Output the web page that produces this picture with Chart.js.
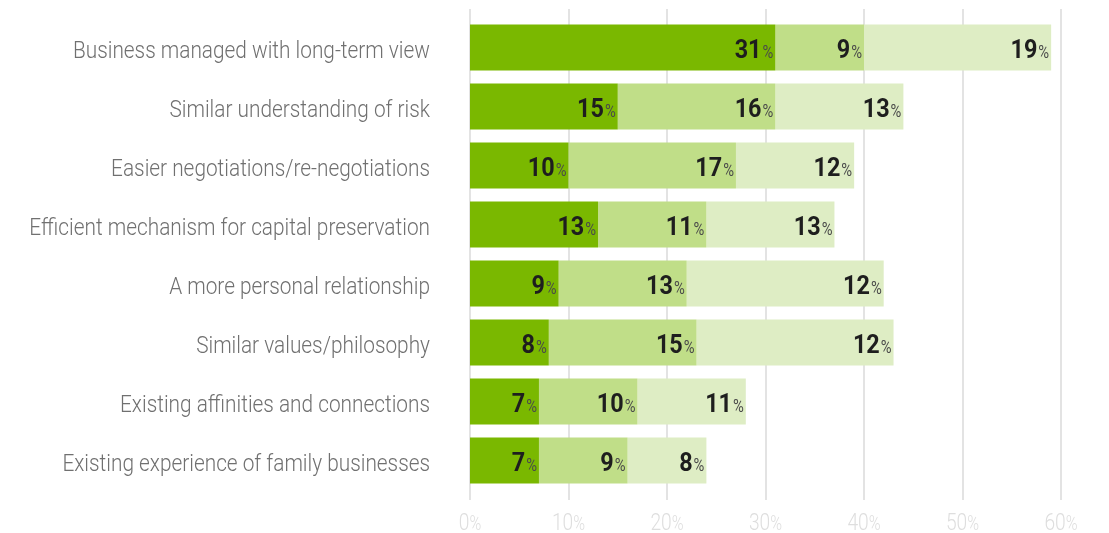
<!DOCTYPE html>
<html>
<head>
<meta charset="utf-8">
<script src="https://cdn.jsdelivr.net/npm/chart.js@4"></script>
<style>
  html, body { margin: 0; padding: 0; background: #fff; }
  #wrap { width: 1109px; height: 533px; }
</style>
</head>
<body>
<div id="wrap"><canvas id="myChart" width="1109" height="533"></canvas></div>
<script>
const categories = [
  "Business managed with long-term view",
  "Similar understanding of risk",
  "Easier negotiations/re-negotiations",
  "Efficient mechanism for capital preservation",
  "A more personal relationship",
  "Similar values/philosophy",
  "Existing affinities and connections",
  "Existing experience of family businesses"
];
// bar lengths as drawn
const darkValues = [31, 15, 10, 13, 9, 8, 7, 7];
const midValues = [9, 16, 17, 11, 13, 15, 10, 9];
const lightValues = [19, 13, 12, 13, 20, 20, 11, 8];
// numbers printed on the bars
const darkLabels = [31, 15, 10, 13, 9, 8, 7, 7];
const midLabels = [9, 16, 17, 11, 13, 15, 10, 9];
const lightLabels = [19, 13, 12, 13, 12, 12, 11, 8];
const xTicks = [0, 10, 20, 30, 40, 50, 60];

const fam = "Roboto, 'DejaVu Sans', sans-serif";

// draw text squeezed horizontally (condensed look), returns drawn width
function squeezed(ctx, text, x, y, align, sx) {
  const w = ctx.measureText(text).width * sx;
  let left = x;
  if (align === 'right') left = x - w;
  if (align === 'center') left = x - w / 2;
  ctx.save();
  ctx.translate(left, y);
  ctx.scale(sx, 1);
  ctx.textAlign = 'left';
  ctx.fillText(text, 0, 0);
  ctx.restore();
  return w;
}

const decor = {
  id: 'decor',
  beforeDatasetsDraw(chart) {
    const ctx = chart.ctx;
    const x = chart.scales.x;
    const area = chart.chartArea;
    ctx.save();
    ctx.strokeStyle = '#e3e3e3';
    ctx.lineWidth = 2;
    xTicks.forEach(v => {
      const px = Math.round(x.getPixelForValue(v));
      ctx.beginPath();
      ctx.moveTo(px, area.top - 9);
      ctx.lineTo(px, area.bottom + 10);
      ctx.stroke();
    });
    ctx.restore();
  },
  afterDatasetsDraw(chart) {
    const ctx = chart.ctx;
    const x = chart.scales.x;
    const y = chart.scales.y;
    const area = chart.chartArea;
    ctx.save();
    ctx.textBaseline = 'alphabetic';

    // category labels
    ctx.fillStyle = '#707070';
    ctx.font = '300 23px ' + fam;
    chart.data.labels.forEach((lab, i) => {
      squeezed(ctx, lab, area.left - 40, y.getPixelForValue(i) + 10, 'right', 0.905);
    });

    // x tick labels
    ctx.fillStyle = '#dedede';
    const tsx = 0.8;
    xTicks.forEach(v => {
      const px = x.getPixelForValue(v);
      ctx.font = '300 24px ' + fam;
      const wn = ctx.measureText(String(v)).width * tsx;
      ctx.font = '300 20px ' + fam;
      const wp = ctx.measureText('%').width * tsx;
      const start = px - (wn + wp) / 2;
      ctx.font = '300 24px ' + fam;
      squeezed(ctx, String(v), start, area.bottom + 40, 'left', tsx);
      ctx.font = '300 20px ' + fam;
      squeezed(ctx, '%', start + wn, area.bottom + 40, 'left', tsx);
    });

    // value labels
    const labelSets = [darkLabels, midLabels, lightLabels];
    chart.data.datasets.forEach((ds, di) => {
      ds.data.forEach((val, i) => {
        let end = 0;
        for (let k = 0; k <= di; k++) end += chart.data.datasets[k].data[i];
        const px = x.getPixelForValue(end) - 2;
        const base = y.getPixelForValue(i) + 10;
        ctx.font = '18px ' + fam;
        ctx.fillStyle = '#4a4a4a';
        const wp = squeezed(ctx, '%', px, base, 'right', 0.82);
        ctx.font = 'bold 26px ' + fam;
        ctx.fillStyle = '#1e1e1e';
        squeezed(ctx, String(labelSets[di][i]), px - wp - 1, base, 'right', 0.9);
      });
    });
    ctx.restore();
  }
};

new Chart(document.getElementById('myChart').getContext('2d'), {
  type: 'bar',
  data: {
    labels: categories,
    datasets: [
      { data: darkValues, backgroundColor: '#7ab800' },
      { data: midValues, backgroundColor: '#c0de88' },
      { data: lightValues, backgroundColor: '#deedc4' }
    ]
  },
  options: {
    indexAxis: 'y',
    responsive: false,
    animation: false,
    layout: { padding: { top: 18, right: 48, bottom: 0, left: 0 } },
    datasets: { bar: { barPercentage: 0.78, categoryPercentage: 1, borderWidth: 0 } },
    plugins: { legend: { display: false }, tooltip: { enabled: false } },
    scales: {
      x: {
        stacked: true,
        min: 0,
        max: 60,
        grid: { display: false },
        border: { display: false },
        ticks: { display: false, stepSize: 10 },
        afterFit(scale) { scale.height = 43; }
      },
      y: {
        stacked: true,
        grid: { display: false, drawTicks: false },
        border: { display: false },
        ticks: { display: false },
        afterFit(scale) { scale.width = 470; }
      }
    }
  },
  plugins: [decor]
});
</script>
</body>
</html>
